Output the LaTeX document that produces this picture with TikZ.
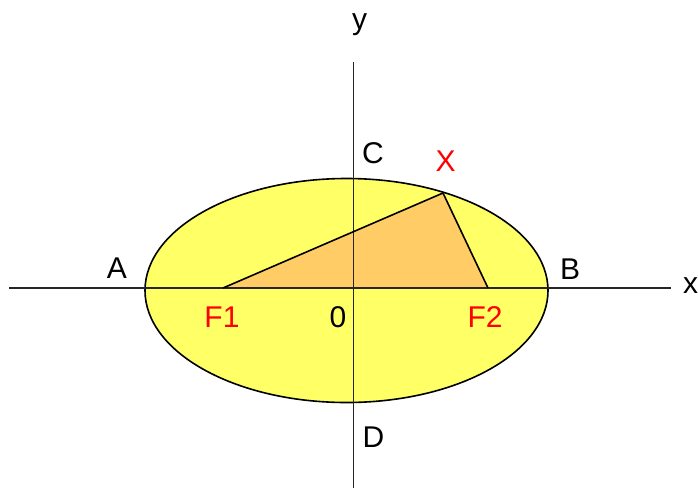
\documentclass[tikz,border=0pt]{standalone}
\usepackage{fontspec}
\setmainfont{Liberation Sans}
\definecolor{ellfill}{RGB}{255,255,102}
\definecolor{trifill}{RGB}{255,204,102}
\definecolor{lblred}{RGB}{255,0,0}
\begin{document}
\begin{tikzpicture}[x=1pt,y=-1pt,
  lbl/.style={inner sep=0pt,anchor=base,font=\fontsize{30}{30}\selectfont},
  redlbl/.style={lbl,text=lblred},
  axisline/.style={line width=1.8pt,black!85},
  thinline/.style={line width=1.6pt,black}]
\useasboundingbox (0,0) rectangle (698,488);
% points
\coordinate (O) at (353.5,288);
\coordinate (F1p) at (223,288);
\coordinate (F2p) at (488,288);
\coordinate (Xp) at (443,193);
\coordinate (xl) at (9,288);
\coordinate (xr) at (671,288);
\coordinate (yt) at (353.5,62);
\coordinate (yb) at (353.5,488);
% ellipse
\draw[thinline,fill=ellfill] (346.5,290.5) ellipse [x radius=201.5, y radius=112];
% triangle
\fill[trifill] (F1p) -- (Xp) -- (F2p) -- cycle;
% axes
\draw[axisline] (xl) -- (xr);
\draw[axisline] (yt) -- (yb);
% triangle sides
\draw[thinline] (F1p) -- (Xp) -- (F2p);
% labels
\node[lbl] (ylab) at (359.5,29) {y};
\node[lbl] (xlab) at (690.5,293) {x};
\node[lbl] (A) at (117,278) {A};
\node[lbl] (B) at (570,279) {B};
\node[lbl] (C) at (373,163) {C};
\node[lbl] (D) at (373.5,447) {D};
\node[lbl] (zero) at (338,327) {0};
\node[redlbl] (F1) at (222,327) {F1};
\node[redlbl] (F2) at (485,327) {F2};
\node[redlbl] (X) at (445.5,171) {X};
\end{tikzpicture}
\end{document}
